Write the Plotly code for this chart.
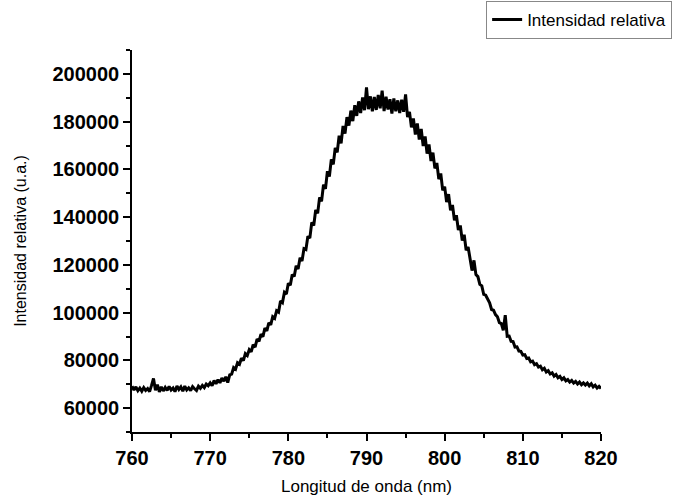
import numpy as np
import plotly.graph_objects as go

# Wavelength grid (nm), 0.25 nm sampling from 760 to 820
wavelength_start = 760.0
wavelength_step = 0.25

# Relative intensity, in thousands of u.a. (4 samples per nm)
intensity_k = [
    69.2, 67.6, 68.9, 67.3,   # 760
    68.4, 67.1, 68.6, 67.4,   # 761
    68.2, 66.9, 69.5, 72.4,   # 762
    67.5, 69.8, 66.8, 68.9,   # 763
    67.2, 68.7, 67.4, 69.1,   # 764
    67.6, 68.4, 66.9, 69.3,   # 765
    67.8, 68.9, 67.1, 69.2,   # 766
    67.6, 68.5, 67.3, 69.0,   # 767
    68.1, 67.4, 69.2, 68.3,   # 768
    69.5, 68.6, 70.1, 69.4,   # 769
    70.6, 69.4, 71.5, 70.2,   # 770
    71.9, 70.6, 72.6, 71.3,   # 771
    73.1, 70.7, 73.9, 74.2,   # 772
    77.0, 76.3, 79.0, 78.4,   # 773
    80.9, 79.9, 82.8, 82.0,   # 774
    84.5, 83.6, 86.6, 85.5,   # 775
    88.9, 88.0, 91.0, 89.9,   # 776
    93.5, 92.4, 95.7, 94.9,   # 777
    98.3, 97.6, 100.8, 100.2, # 778
    104.9, 104.2, 108.5, 107.8,  # 779
    112.3, 111.5, 116.0, 115.1,  # 780
    119.6, 118.3, 123.0, 121.6,  # 781
    126.8, 126.4, 132.0, 131.2,  # 782
    137.8, 136.5, 143.0, 141.6,  # 783
    148.3, 146.6, 153.6, 151.8,  # 784
    159.2, 157.0, 164.2, 162.1,  # 785
    169.0, 167.1, 174.1, 170.9,  # 786
    178.2, 175.0, 181.9, 178.3,  # 787
    184.6, 180.2, 186.9, 182.4,  # 788
    188.5, 183.6, 190.1, 184.8,  # 789
    194.3, 185.2, 190.6, 184.3,  # 790
    190.3, 184.9, 191.2, 185.6,  # 791
    193.0, 184.4, 190.4, 185.1,  # 792
    189.4, 183.4, 189.7, 184.3,  # 793
    188.9, 183.6, 189.2, 184.1,  # 794
    191.4, 181.9, 184.1, 177.6,  # 795
    181.3, 174.6, 179.2, 172.5,  # 796
    176.9, 169.8, 173.8, 166.6,  # 797
    170.4, 163.5, 167.0, 160.4,  # 798
    162.7, 155.9, 158.3, 151.2,  # 799
    152.8, 146.3, 149.6, 142.9,  # 800
    145.1, 138.7, 140.8, 134.6,  # 801
    136.5, 130.2, 132.6, 126.1,  # 802
    127.5, 122.8, 117.6, 121.9,  # 803
    115.9, 115.1, 111.8, 111.2,  # 804
    107.6, 107.3, 105.4, 104.1,  # 805
    101.3, 101.0, 99.2, 98.3,    # 806
    95.8, 95.4, 92.6, 98.9,      # 807
    90.1, 90.2, 88.0, 87.9,      # 808
    85.6, 85.7, 83.9, 83.8,      # 809
    82.2, 82.4, 80.8, 81.0,      # 810
    79.4, 79.7, 78.2, 78.6,      # 811
    77.2, 77.6, 76.1, 76.7,      # 812
    75.1, 75.7, 74.3, 74.8,      # 813
    73.4, 74.1, 72.7, 73.3,      # 814
    72.0, 72.7, 71.4, 72.0,      # 815
    70.9, 71.6, 70.5, 71.2,      # 816
    70.1, 70.9, 69.8, 70.6,      # 817
    69.7, 70.5, 69.3, 70.2,      # 818
    68.9, 69.6, 68.4, 69.1,      # 819
    68.2,                        # 820
]

x_ticks = [760, 770, 780, 790, 800, 810, 820]
y_ticks = [60000, 80000, 100000, 120000, 140000, 160000, 180000, 200000]

wavelength = wavelength_start + wavelength_step * np.arange(len(intensity_k))
intensity = np.array(intensity_k) * 1000

font_family = "Arial, Liberation Sans, sans-serif"

fig = go.Figure()
fig.add_trace(go.Scatter(
    x=wavelength, y=intensity, mode="lines",
    name="Intensidad relativa",
    line=dict(color="black", width=3),
))

fig.update_layout(
    width=678, height=496,
    margin=dict(l=131.5, r=76.5, t=50, b=64.3, autoexpand=False),
    plot_bgcolor="white", paper_bgcolor="white",
    font=dict(family=font_family, color="black"),
    showlegend=True,
    legend=dict(
        xref="container", yref="container",
        x=0.717, y=0.998, xanchor="left", yanchor="top",
        bgcolor="white", bordercolor="#888888", borderwidth=1,
        font=dict(size=17, family=font_family, color="black"),
        tracegroupgap=0, itemwidth=30,
    ),
)

fig.update_xaxes(
    automargin=False,
    range=[760, 820], tickvals=x_ticks, ticktext=[str(v) for v in x_ticks],
    showgrid=False, zeroline=False,
    showline=True, linecolor="black", linewidth=1.5,
    ticks="outside", ticklen=7, tickwidth=1.5, tickcolor="black",
    tickfont=dict(size=20, family=font_family, color="black", weight="bold"),
    minor=dict(dtick=5, tick0=760, ticks="outside", ticklen=4, tickwidth=1.5, tickcolor="black"),
    title=dict(text="Longitud de onda (nm)", font=dict(size=17, family=font_family, color="black"), standoff=14),
)
fig.update_yaxes(
    automargin=False,
    range=[50000, 210000], tickvals=y_ticks, ticktext=[str(v) for v in y_ticks],
    showgrid=False, zeroline=False,
    showline=True, linecolor="black", linewidth=1.5,
    ticks="outside", ticklen=7, tickwidth=1.5, tickcolor="black",
    tickfont=dict(size=20, family=font_family, color="black", weight="bold"),
    minor=dict(dtick=10000, tick0=50000, ticks="outside", ticklen=4, tickwidth=1.5, tickcolor="black"),
    title=dict(text="Intensidad relativa (u.a.)", font=dict(size=16, family=font_family, color="black"), standoff=22),
)

fig.write_html("out.html")
